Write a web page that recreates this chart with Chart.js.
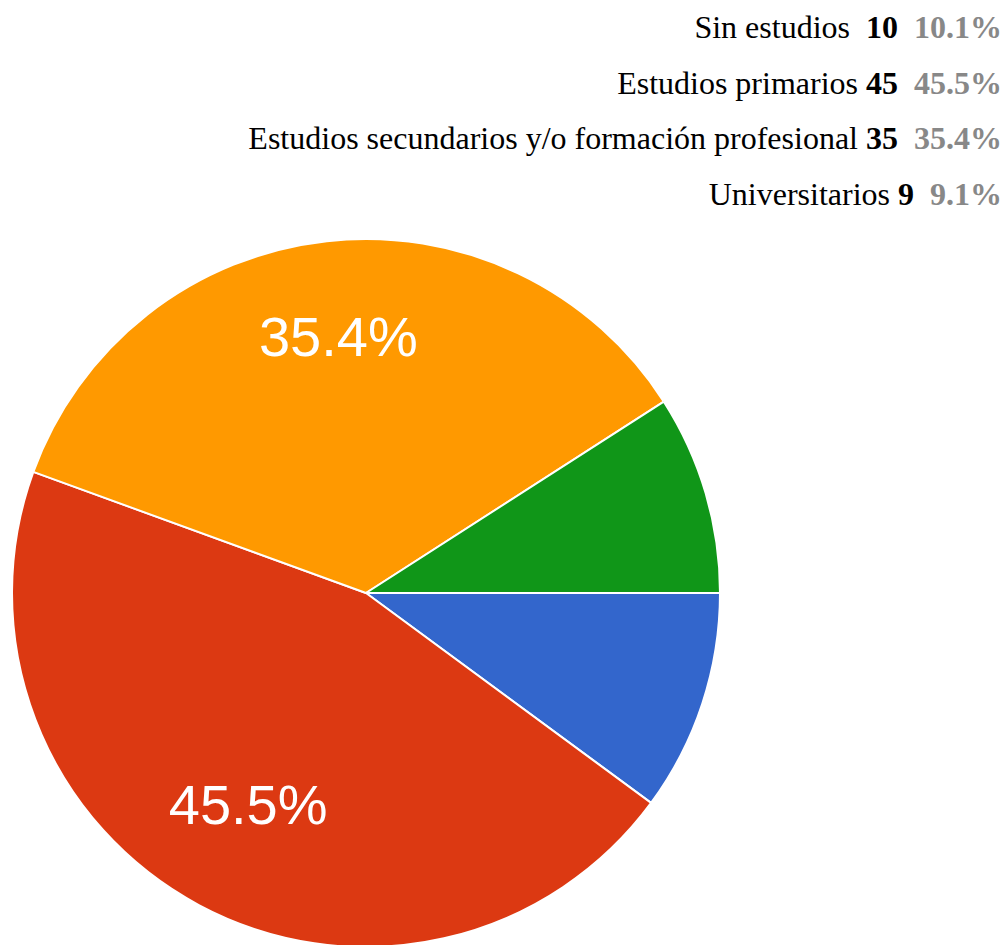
<!DOCTYPE html>
<html>
<head>
<meta charset="utf-8">
<script src="https://cdn.jsdelivr.net/npm/chart.js@4"></script>
<style>
    html, body { margin: 0; padding: 0; background: #fff; width: 1006px; height: 945px; overflow: hidden; }
    #legend { position: absolute; right: 4px; top: 0; font-family: "Liberation Serif", "Times New Roman", serif; font-size: 32px; text-align: right; }
    #legend div { height: 55.5px; line-height: 55.5px; white-space: pre; color: #000; }
    #legend b { font-weight: bold; }
    #legend .pct { color: #888; font-weight: bold; }
    #wrap { position: absolute; left: 11px; top: 238px; width: 710px; height: 710px; }
</style>
</head>
<body>
<div id="legend"></div>
<div id="wrap"><canvas id="pieChart"></canvas></div>
<script>
const labels = ['Sin estudios', 'Estudios primarios', 'Estudios secundarios y/o formación profesional', 'Universitarios'];
const counts = [10, 45, 35, 9];
const percents = [10.1, 45.5, 35.4, 9.1];
const colors = ['#3366CC', '#DC3912', '#FF9900', '#109618'];

// leyenda en HTML (arriba a la derecha)
const legendEl = document.getElementById('legend');
labels.forEach((label, i) => {
    const row = document.createElement('div');
    const gap = i === 0 ? '  ' : ' ';
    row.innerHTML = label + gap + '<b>' + counts[i] + '</b>  <span class="pct">' + percents[i].toFixed(1) + '%</span>';
    legendEl.appendChild(row);
});

// etiquetas de porcentaje dentro de las porciones grandes
const sliceLabels = {
    id: 'sliceLabels',
    afterDatasetsDraw(chart) {
        const ctx = chart.ctx;
        const meta = chart.getDatasetMeta(0);
        const size = 56;
        ctx.save();
        ctx.fillStyle = '#ffffff';
        ctx.font = size + 'px "Liberation Sans", Arial, sans-serif';
        ctx.textAlign = 'center';
        ctx.textBaseline = 'alphabetic';
        meta.data.forEach((arc, i) => {
            if (percents[i] < 20) return;
            const p = arc.getProps(['x', 'y', 'startAngle', 'endAngle', 'outerRadius'], true);
            const mid = (p.startAngle + p.endAngle) / 2;
            const r = p.outerRadius * 0.705;
            // centrar en la altura de las mayúsculas, un poco más arriba
            ctx.fillText(percents[i].toFixed(1) + '%', p.x + Math.cos(mid) * r, p.y + Math.sin(mid) * r + size * 0.34 - 8);
        });
        ctx.restore();
    }
};

const ctx = document.getElementById('pieChart').getContext('2d');
new Chart(ctx, {
    type: 'pie',
    data: {
        labels: labels,
        datasets: [{
            data: counts,
            backgroundColor: colors,
            borderColor: '#ffffff',
            borderWidth: 2
        }]
    },
    options: {
        responsive: true,
        maintainAspectRatio: false,
        animation: false,
        rotation: 90,
        plugins: {
            legend: { display: false },
            tooltip: { enabled: false }
        }
    },
    plugins: [sliceLabels]
});
</script>
</body>
</html>
